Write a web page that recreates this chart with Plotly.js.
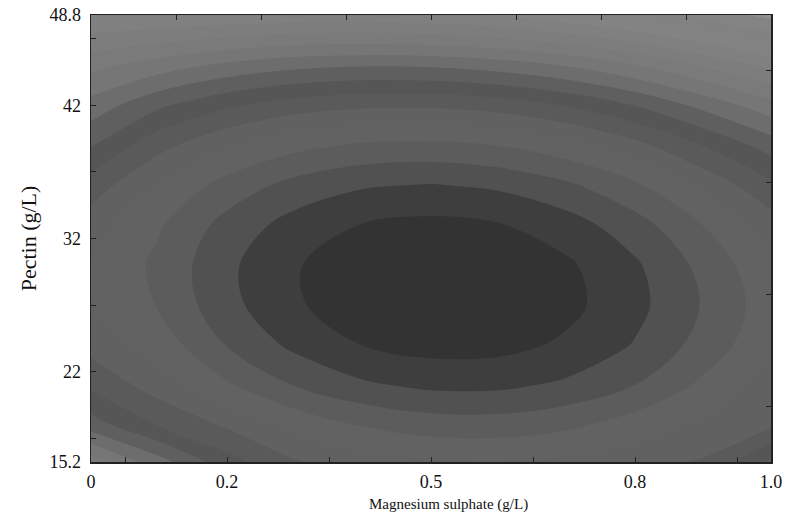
<!DOCTYPE html>
<html>
<head>
<meta charset="utf-8">
<script src="https://cdn.plot.ly/plotly-3.0.1.min.js"></script>
<style>html,body{margin:0;padding:0;background:#fff;}#chart{width:798px;height:518px;}</style>
</head>
<body>
<div id="chart"></div>
<script>
// Magnesium sulphate (g/L) grid
const magnesiumSulphate = [0, 0.1, 0.2, 0.3, 0.4, 0.5, 0.6, 0.7, 0.8, 0.9, 1.0];
// Pectin (g/L) grid
const pectin = [15.2, 18, 21, 24, 27, 30, 33, 36, 39, 42, 45, 48.8];
// response surface (contour level units), one row per pectin value
const row15 = [11.50, 9.40, 7.40, 6.10, 5.40, 5.10, 5.00, 5.20, 5.60, 6.10, 8.20];
const row18 = [8.45, 6.90, 5.84, 4.69, 3.91, 3.50, 3.45, 3.78, 4.48, 5.20, 5.80];
const row21 = [6.78, 5.50, 4.13, 2.94, 2.15, 1.76, 1.77, 2.19, 3.00, 4.20, 5.49];
const row24 = [5.64, 4.57, 2.95, 1.75, 0.98, 0.62, 0.68, 1.17, 2.07, 3.38, 4.78];
const row27 = [5.05, 3.92, 2.31, 1.13, 0.39, 0.07, 0.18, 0.72, 1.69, 3.07, 4.55];
const row30 = [4.99, 3.76, 2.21, 1.08, 0.38, 0.10, 0.26, 0.84, 1.85, 3.29, 4.81];
const row33 = [5.48, 4.11, 2.64, 1.59, 0.95, 0.73, 0.93, 1.54, 2.57, 4.01, 5.54];
const row36 = [6.51, 4.96, 3.61, 2.66, 2.11, 1.94, 2.18, 2.81, 3.84, 5.26, 6.75];
const row39 = [8.07, 6.31, 5.13, 4.30, 3.84, 3.75, 4.02, 4.66, 5.66, 7.02, 8.45];
const row42 = [9.60, 8.16, 7.17, 6.50, 6.17, 6.15, 6.44, 7.07, 8.02, 9.29, 10.63];
const row45 = [11.30, 10.51, 9.76, 9.27, 9.07, 9.13, 9.46, 10.06, 10.94, 12.09, 13.29];
const row48 = [14.00, 13.90, 13.81, 13.59, 13.58, 13.76, 14.11, 14.68, 15.42, 16.37, 17.35];
// gray shade of each contour band, innermost first
const bandGrays = ['#333333','#494949','#585858','#5f5f5f','#646464','#5e5e5e','#555555','#575757',
  '#666666','#747474','#787878','#7b7b7b','#7f7f7f','#808080','#868686','#7e7e7e',
  '#8a8a8a','#939393','#8c8c8c','#949494','#909090'];
// tick labels (empty text = unlabelled tick mark)
const xTickVals = [0, 0.05, 0.2, 0.35, 0.5, 0.65, 0.8, 0.95, 1.0];
const xTickText = ['0', '', '0.2', '', '0.5', '', '0.8', '', '1.0'];
const yTickVals = [15.2, 17, 22, 27, 32, 37, 42, 47, 48.8];
const yTickText = ['15.2', '', '22', '', '32', '', '42', '', '48.8'];
const xTopMarks = [0.125, 0.25, 0.375, 0.5, 0.625, 0.75, 0.875];
const yRightMarks = [19.4, 27.8, 36.2, 44.6];
const xTitle = 'Magnesium sulphate (g/L)';
const yTitle = 'Pectin (g/L)';

const zRows = [row15, row18, row21, row24, row27, row30, row33, row36, row39, row42, row45, row48];
const nBands = bandGrays.length;
const colorscale = [[0, bandGrays[0]]];
bandGrays.forEach((c, k) => colorscale.push([(k + 0.5) / nBands, c]));
colorscale.push([1, bandGrays[nBands - 1]]);

const fontFam = '"Liberation Serif", "Times New Roman", serif';

const surface = {
  type: 'contour',
  x: magnesiumSulphate,
  y: pectin,
  z: zRows,
  colorscale: colorscale,
  showscale: false,
  contours: {start: 1, end: nBands, size: 1, coloring: 'fill', showlines: false},
  line: {width: 0, smoothing: 1},
  hoverinfo: 'skip'
};
// empty helper trace so the top/right tick-mark axes get drawn
const frameHelper = {type: 'scatter', x: [], y: [], xaxis: 'x2', yaxis: 'y2', hoverinfo: 'skip', showlegend: false};

const layout = {
  width: 798, height: 518,
  margin: {l: 91, r: 27, t: 15, b: 56},
  paper_bgcolor: '#ffffff', plot_bgcolor: '#ffffff',
  font: {family: fontFam, color: '#111', size: 18},
  showlegend: false,
  xaxis: {range: [0, 1], tickmode: 'array', tickvals: xTickVals, ticktext: xTickText,
    ticks: 'inside', ticklen: 5, tickwidth: 1, tickcolor: '#222',
    showgrid: false, zeroline: false, showline: true, mirror: true,
    linecolor: '#222', linewidth: 1.5, tickfont: {size: 18, family: fontFam}, ticklabelstandoff: 3},
  yaxis: {range: [15.2, 48.8], tickmode: 'array', tickvals: yTickVals, ticktext: yTickText,
    ticks: 'inside', ticklen: 5, tickwidth: 1, tickcolor: '#222',
    showgrid: false, zeroline: false, showline: true, mirror: true,
    linecolor: '#222', linewidth: 1.5, tickfont: {size: 18, family: fontFam}, ticklabelstandoff: 5,
    title: {text: yTitle, font: {size: 22, family: fontFam}, standoff: 6}},
  xaxis2: {range: [0, 1], overlaying: 'x', anchor: 'y2', side: 'top', tickmode: 'array', tickvals: xTopMarks,
    ticks: 'inside', ticklen: 5, tickwidth: 1, tickcolor: '#222', showticklabels: false,
    showgrid: false, zeroline: false, showline: false},
  yaxis2: {range: [15.2, 48.8], overlaying: 'y', anchor: 'x2', side: 'right', tickmode: 'array', tickvals: yRightMarks,
    ticks: 'inside', ticklen: 5, tickwidth: 1, tickcolor: '#222', showticklabels: false,
    showgrid: false, zeroline: false, showline: false},
  annotations: [{text: xTitle, xref: 'paper', yref: 'paper', x: 0.525, y: -0.096,
    xanchor: 'center', yanchor: 'middle', showarrow: false, font: {size: 15, family: fontFam, color: '#111'}}]
};

Plotly.newPlot('chart', [surface, frameHelper], layout, {displayModeBar: false, staticPlot: true});
</script>
</body>
</html>
